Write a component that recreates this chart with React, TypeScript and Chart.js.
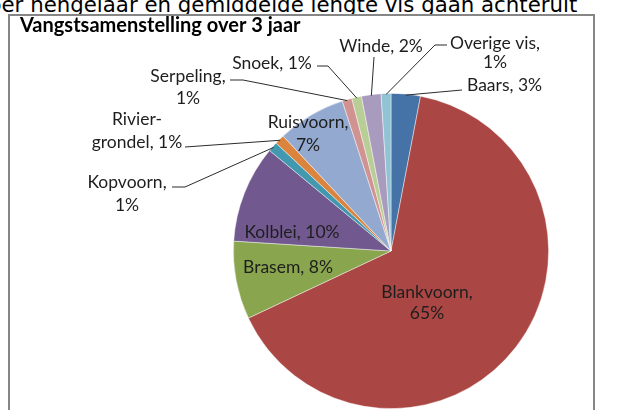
import { useEffect, useRef } from "react";
import { Chart, registerables } from "chart.js";

Chart.register(...registerables);

const categories = [
  "Baars",
  "Blankvoorn",
  "Brasem",
  "Kolblei",
  "Kopvoorn",
  "Rivier-grondel",
  "Ruisvoorn",
  "Serpeling",
  "Snoek",
  "Winde",
  "Overige vis",
];
const values = [3, 65, 8, 10, 1, 1, 7, 1, 1, 2, 1];
const sliceColors = [
  "#4572A7",
  "#AA4643",
  "#89A54E",
  "#71588F",
  "#4198AF",
  "#DB843D",
  "#93A9CF",
  "#D19392",
  "#B9CD96",
  "#A99BBD",
  "#92C3D4",
];

const TITLE = "Vangstsamenstelling over 3 jaar";
const CAPTION = "per hengelaar en gemiddelde lengte vis gaan achteruit";

// canvas origin in page coordinates
const ORIGIN = { x: 10, y: 16 };

type LabelLayout = {
  x: number;
  ys: number[];
  align: CanvasTextAlign;
  wrap: "none" | "name" | "hyphen";
  leader?: number[][];
};

// label placement (page coordinates), one per category
const labelLayout: LabelLayout[] = [
  { x: 467, ys: [85], align: "left", wrap: "none", leader: [[462, 90]] },
  { x: 427, ys: [292, 313], align: "center", wrap: "name" },
  { x: 288, ys: [267], align: "center", wrap: "none" },
  { x: 292, ys: [232], align: "center", wrap: "none" },
  { x: 127, ys: [182, 205], align: "center", wrap: "name", leader: [[172, 187], [185, 187]] },
  { x: 137, ys: [119, 142], align: "center", wrap: "hyphen", leader: [[185, 147]] },
  { x: 308, ys: [122, 145], align: "center", wrap: "name" },
  { x: 188, ys: [76, 98], align: "center", wrap: "name", leader: [[230, 80], [243, 80]] },
  { x: 272, ys: [63], align: "center", wrap: "none", leader: [[317, 66], [328, 66]] },
  { x: 381, ys: [46], align: "center", wrap: "none", leader: [[374, 57]] },
  { x: 495, ys: [43, 62], align: "center", wrap: "name", leader: [[447, 45], [435, 45]] },
];

const LABEL_FONT = "17.5px Lato, 'Open Sans', sans-serif";
const TITLE_FONT = "bold 20px Lato, 'Open Sans', sans-serif";

function labelLines(name: string, v: number, wrap: LabelLayout["wrap"]): string[] {
  if (wrap === "name") return [name + ",", v + "%"];
  if (wrap === "hyphen") {
    const i = name.indexOf("-");
    return [name.slice(0, i + 1), name.slice(i + 1) + ", " + v + "%"];
  }
  return [name + ", " + v + "%"];
}

const labelPlugin = {
  id: "excelLabels",
  afterDraw(chart: any) {
    const ctx: CanvasRenderingContext2D = chart.ctx;
    const meta = chart.getDatasetMeta(0);
    ctx.save();
    // title
    ctx.font = TITLE_FONT;
    ctx.fillStyle = "#000000";
    ctx.textAlign = "left";
    ctx.textBaseline = "middle";
    ctx.fillText(TITLE, 20 - ORIGIN.x, 26 - ORIGIN.y);

    meta.data.forEach((arc: any, i: number) => {
      const lay = labelLayout[i];
      if (!lay) return;
      const p = arc.getProps(["x", "y", "startAngle", "endAngle", "outerRadius"], true);
      const mid = (p.startAngle + p.endAngle) / 2;
      if (lay.leader) {
        const r = p.outerRadius - 1;
        const ex = p.x + Math.cos(mid) * r;
        const ey = p.y + Math.sin(mid) * r;
        ctx.beginPath();
        ctx.strokeStyle = "#2b2b2b";
        ctx.lineWidth = 1;
        lay.leader.forEach((pt, k) => {
          const px = pt[0] - ORIGIN.x;
          const py = pt[1] - ORIGIN.y;
          if (k === 0) ctx.moveTo(px, py);
          else ctx.lineTo(px, py);
        });
        ctx.lineTo(ex, ey);
        ctx.stroke();
      }
      const lines = labelLines(categories[i], values[i], lay.wrap);
      ctx.font = LABEL_FONT;
      ctx.fillStyle = "#1e1e1e";
      ctx.textAlign = lay.align;
      ctx.textBaseline = "middle";
      lines.forEach((t, k) => {
        ctx.fillText(t, lay.x - ORIGIN.x, lay.ys[k] - ORIGIN.y);
      });
    });
    ctx.restore();
  },
};

export default function App() {
  const ref = useRef<HTMLCanvasElement | null>(null);

  useEffect(() => {
    if (!ref.current) return;
    const chart = new Chart(ref.current, {
      type: "pie",
      data: {
        labels: categories,
        datasets: [
          {
            data: values,
            backgroundColor: sliceColors,
            borderColor: "rgba(255,255,255,0.55)",
            borderWidth: 0.8,
          },
        ],
      },
      options: {
        responsive: false,
        animation: false,
        layout: { padding: { left: 223, right: 44, top: 77, bottom: 21 } },
        plugins: {
          legend: { display: false },
          title: { display: false },
          tooltip: { enabled: false },
        },
      },
      plugins: [labelPlugin],
    });
    return () => chart.destroy();
  }, []);

  return (
    <div
      style={{
        position: "fixed",
        left: 0,
        top: 0,
        width: 618,
        height: 410,
        overflow: "hidden",
        background: "#ffffff",
      }}
    >
      <div
        style={{
          position: "absolute",
          left: -12,
          top: -6,
          whiteSpace: "nowrap",
          fontFamily: "'DejaVu Sans', sans-serif",
          fontSize: 21.3,
          lineHeight: "21px",
          color: "#000",
        }}
      >
        {CAPTION}
      </div>
      <div
        style={{
          position: "absolute",
          left: 8,
          top: 14,
          width: 587,
          height: 440,
          boxSizing: "border-box",
          border: "2px solid #868686",
          background: "#ffffff",
        }}
      >
        <canvas
          ref={ref}
          width={583}
          height={414}
          style={{ display: "block", position: "absolute", left: 0, top: 0 }}
        />
      </div>
    </div>
  );
}
